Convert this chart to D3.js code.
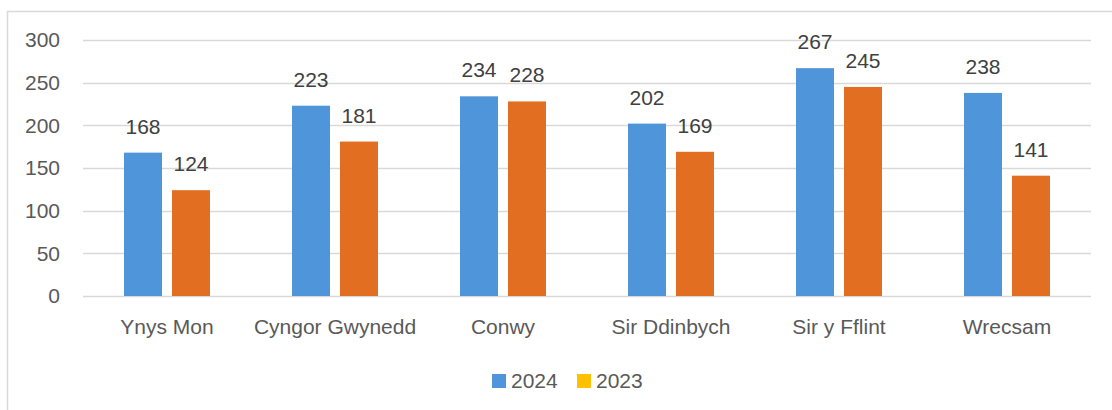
<!DOCTYPE html>
<html>
<head>
<meta charset="utf-8">
<script src="https://cdn.jsdelivr.net/npm/d3@7"></script>
<style>
  body { margin: 0; background: #fff; }
  svg { display: block; font-family: "Liberation Sans", Arial, sans-serif; }
</style>
</head>
<body>
<svg id="chart" width="1112" height="410"></svg>
<script>
// data
const categories = ["Ynys Mon", "Cyngor Gwynedd", "Conwy", "Sir Ddinbych", "Sir y Fflint", "Wrecsam"];
const seriesNames = ["2024", "2023"];
const values2024 = [168, 223, 234, 202, 267, 238];
const values2023 = [124, 181, 228, 169, 245, 141];
const yTicks = [0, 50, 100, 150, 200, 250, 300];

const barColors = { "2024": "#4F95D9", "2023": "#E26E22" };
const legendColors = { "2024": "#4F95D9", "2023": "#FFC000" };

const svg = d3.select("#chart");
const plot = { left: 83, right: 1091, top: 40, bottom: 296 };
const fontSize = "21px";

// outer chart frame (runs past the right / bottom edge)
svg.append("rect")
    .attr("x", 7.5).attr("y", 11.5)
    .attr("width", 1300).attr("height", 600)
    .attr("fill", "none")
    .attr("stroke", "#d9d9d9")
    .attr("stroke-width", 1.5);

const y = d3.scaleLinear().domain([0, 300]).range([plot.bottom, plot.top]);

const x0 = d3.scaleBand()
    .domain(categories)
    .range([plot.left, plot.right])
    .paddingInner(82 / 168)
    .paddingOuter(41 / 168);

const x1 = d3.scaleBand()
    .domain(seriesNames)
    .range([0, x0.bandwidth()])
    .paddingInner(10 / 48);

// gridlines
svg.append("g")
    .selectAll("line")
    .data(yTicks)
    .join("line")
    .attr("x1", plot.left).attr("x2", plot.right)
    .attr("y1", d => Math.round(y(d)) + 0.5)
    .attr("y2", d => Math.round(y(d)) + 0.5)
    .attr("stroke", "#d9d9d9")
    .attr("stroke-width", 1.5);

// y axis labels
const yAxis = d3.axisLeft(y).tickValues(yTicks).tickSize(0).tickPadding(0);
svg.append("g")
    .attr("transform", "translate(60,0)")
    .call(yAxis)
    .call(g => g.select(".domain").remove())
    .call(g => g.selectAll("text")
        .attr("fill", "#595959")
        .style("font-size", fontSize)
        .style("font-family", "Liberation Sans, Arial, sans-serif"));

// bars
const rows = categories.map((c, i) => ({
    cat: c,
    vals: [{ key: "2024", v: values2024[i] }, { key: "2023", v: values2023[i] }]
}));

const groups = svg.append("g")
    .selectAll("g")
    .data(rows)
    .join("g")
    .attr("transform", d => `translate(${x0(d.cat)},0)`);

groups.selectAll("rect")
    .data(d => d.vals)
    .join("rect")
    .attr("x", d => x1(d.key))
    .attr("y", d => y(d.v))
    .attr("width", x1.bandwidth())
    .attr("height", d => y(0) - y(d.v))
    .attr("fill", d => barColors[d.key]);

groups.selectAll("text")
    .data(d => d.vals)
    .join("text")
    .attr("x", d => x1(d.key) + x1.bandwidth() / 2)
    .attr("y", d => y(d.v) - 19)
    .attr("text-anchor", "middle")
    .attr("fill", "#404040")
    .style("font-size", fontSize)
    .text(d => d.v);

// category labels
const xAxis = d3.axisBottom(x0).tickSize(0).tickPadding(0);
svg.append("g")
    .attr("transform", `translate(0,${plot.bottom})`)
    .call(xAxis)
    .call(g => g.select(".domain").remove())
    .call(g => g.selectAll("text")
        .attr("dy", null)
        .attr("y", 38)
        .attr("fill", "#595959")
        .style("font-size", fontSize)
        .style("font-family", "Liberation Sans, Arial, sans-serif"));

// legend
const legend = svg.append("g").attr("transform", "translate(492,374)");
const legendItems = legend.selectAll("g")
    .data(seriesNames)
    .join("g")
    .attr("transform", (d, i) => `translate(${i * 85},0)`);

legendItems.append("rect")
    .attr("width", 14).attr("height", 14)
    .attr("fill", d => legendColors[d]);

legendItems.append("text")
    .attr("x", 19)
    .attr("y", 14)
    .attr("fill", "#595959")
    .style("font-size", fontSize)
    .text(d => d);
</script>
</body>
</html>
